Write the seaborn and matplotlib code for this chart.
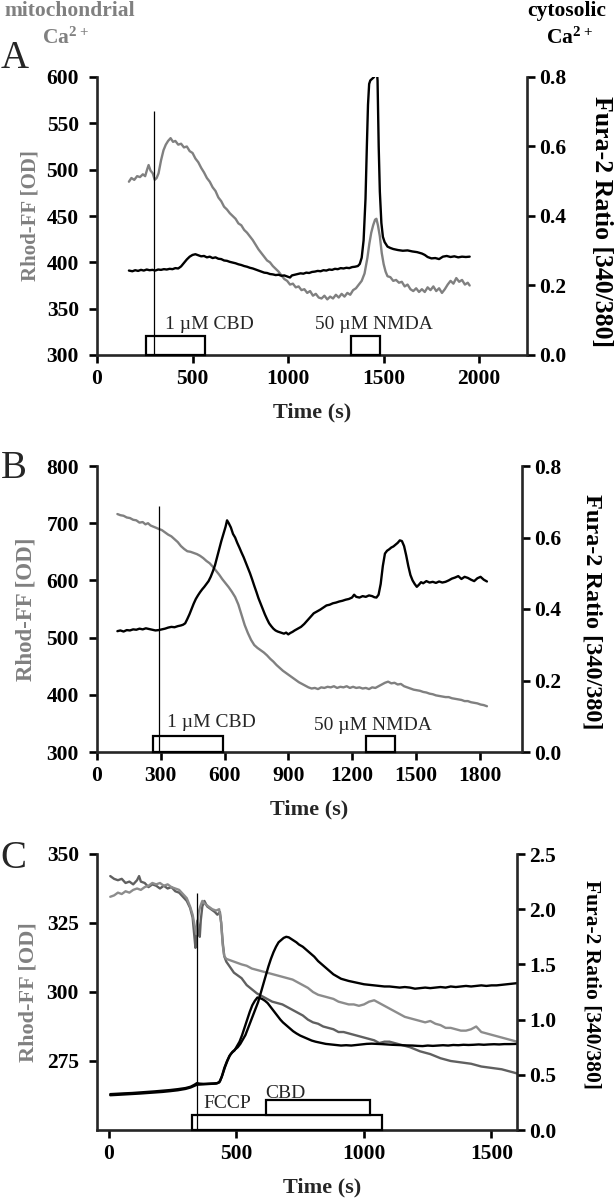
import seaborn as sns
import matplotlib.pyplot as plt
from matplotlib.patches import Rectangle

# ---------------- panel A ----------------
a_rhod_t = [167, 180, 195, 210, 225, 240, 252, 262, 270, 280, 292, 302, 312, 322, 335, 348, 360, 372,
            385, 398, 410, 425, 440, 455, 470, 485, 500, 515, 530, 545, 560, 575, 590, 605, 620, 635,
            650, 665, 680, 695, 710, 725, 740, 755, 770, 785, 800, 815, 830, 845, 860, 875, 890, 905,
            920, 935, 950, 965, 980, 995, 1010, 1025, 1040, 1055, 1070, 1085, 1100, 1115, 1130, 1145,
            1160, 1175, 1190, 1205, 1220, 1235, 1250, 1265, 1280, 1295, 1310, 1325, 1340, 1355, 1370,
            1385, 1400, 1415, 1425, 1435, 1445, 1455, 1462, 1470, 1480, 1490, 1500, 1510, 1520, 1535,
            1550, 1565, 1580, 1595, 1610, 1625, 1640, 1655, 1670, 1685, 1700, 1715, 1730, 1745, 1760,
            1775, 1790, 1805, 1820, 1835, 1850, 1865, 1880, 1895, 1910, 1925, 1940, 1950]
a_rhod = [487, 491, 489, 493, 492, 495, 493, 500, 505, 499, 496, 489, 491, 496, 510, 521, 527, 531,
          534, 530, 531, 527, 528, 524, 525, 520, 518, 512, 508, 502, 497, 491, 487, 481, 477, 470,
          466, 460, 457, 453, 450, 447, 442, 440, 435, 432, 428, 424, 419, 414, 410, 406, 402, 400,
          396, 393, 390, 386, 382, 380, 376, 377, 373, 374, 370, 371, 367, 369, 364, 366,
          362, 361, 364, 360, 363, 361, 365, 362, 366, 363, 367, 365, 370, 372, 376,
          380, 388, 405, 420, 432, 440, 446, 447, 440, 428, 410, 398, 390, 385, 384,
          380, 381, 378, 379, 374, 376, 371, 369, 372, 368, 371, 368, 373, 370, 374,
          369, 372, 367, 371, 376, 380, 377, 383, 379, 381, 376, 378, 375]
a_fura_t = [167, 185, 200, 215, 230, 245, 260, 275, 290, 305, 320, 335, 350, 365, 380, 395, 410, 425,
            440, 455, 470, 485, 500, 515, 530, 545, 560, 575, 590, 605, 620, 635, 650, 665, 680, 695,
            710, 725, 740, 755, 770, 785, 800, 815, 830, 845, 860, 875, 890, 905, 920, 935, 950, 965,
            980, 995, 1010, 1020, 1035, 1050, 1065, 1080, 1095, 1110, 1125, 1140, 1155, 1170, 1185,
            1200, 1215, 1230, 1245, 1260, 1275, 1290, 1305, 1320, 1335, 1350, 1365, 1375, 1385, 1395,
            1405, 1412, 1418, 1424, 1430, 1440, 1450, 1456, 1462, 1468, 1474, 1480, 1488, 1496, 1505,
            1520, 1535, 1550, 1575, 1600, 1625, 1650, 1675, 1700, 1715, 1730, 1750, 1770, 1790, 1810,
            1830, 1850, 1870, 1890, 1910, 1930, 1950]
a_fura = [.243, .241, .244, .242, .245, .243, .246, .244, .245, .243, .246, .245, .247, .246, .248, .247,
          .250, .249, .255, .265, .275, .283, .288, .290, .287, .284, .285, .281, .283, .279, .281, .277,
          .276, .272, .271, .268, .266, .264, .261, .259, .256, .254, .251, .249, .246, .243, .240, .237,
          .236, .233, .232, .230, .231, .228, .229, .226, .223, .229, .231, .233, .235, .234, .237, .236,
          .239, .240, .242, .241, .244, .243, .246, .245, .248, .247, .250, .249, .251, .250, .253, .254,
          .256, .262, .280, .330, .450, .600, .720, .780, .790, .795, .800, .820, .840, .790, .600, .470,
          .380, .340, .325, .312, .308, .305, .302, .300, .301, .298, .296, .292, .288, .282, .278, .279,
          .276, .283, .285, .282, .284, .281, .283, .282, .283]
a_boxes = [(256, 565, 300, 320), (1328, 1480, 300, 320)]
a_box_text = [(590, 333, '1 µM CBD'), (1450, 333, '50 µM NMDA')]
a_marker = (300, 300, 563)

# ---------------- panel B ----------------
b_rhod_t = [96, 110, 125, 140, 155, 170, 185, 200, 215, 228, 240, 252, 265, 278, 290, 305, 320, 335,
            350, 365, 380, 395, 410, 425, 440, 455, 470, 485, 500, 515, 530, 545, 560, 575, 590, 605,
            620, 635, 650, 665, 680, 695, 710, 725, 740, 755, 770, 785, 800, 815, 830, 845, 860, 875,
            890, 905, 920, 935, 950, 965, 980, 995, 1010, 1025, 1040, 1055, 1070, 1085, 1100, 1115,
            1130, 1145, 1160, 1175, 1190, 1205, 1220, 1235, 1250, 1265, 1280, 1295, 1310, 1325, 1340,
            1355, 1370, 1385, 1400, 1415, 1430, 1445, 1460, 1475, 1490, 1505, 1520, 1535, 1550, 1565,
            1580, 1595, 1610, 1625, 1640, 1655, 1670, 1685, 1700, 1715, 1730, 1745, 1760, 1775, 1790,
            1805, 1820, 1835]
b_rhod = [716, 714, 713, 710, 709, 706, 705, 701, 702, 698, 700, 696, 694, 692, 690, 688, 684, 680,
          677, 672, 667, 660, 655, 651, 650, 648, 646, 643, 639, 634, 630, 624, 617, 610, 602, 595,
          588, 580, 571, 558, 540, 522, 508, 496, 487, 482, 478, 474, 469, 463, 458, 452, 447, 442,
          438, 434, 430, 426, 422, 419, 416, 413, 411, 412, 410, 413, 412, 414, 413, 415,
          412, 414, 413, 415, 412, 414, 412, 413, 411, 412, 410, 413, 412, 415, 418,
          421, 423, 420, 421, 418, 419, 415, 413, 411, 409, 408, 407, 405, 404, 402,
          401, 399, 398, 397, 396, 396, 394, 393, 392, 391, 389, 389, 387, 386, 385,
          383, 382, 380]
b_fura_t = [96, 110, 125, 140, 155, 170, 185, 200, 215, 230, 245, 260, 275, 290, 305, 320, 335, 350,
            365, 380, 395, 405, 415, 425, 435, 445, 455, 465, 475, 485, 495, 505, 515, 525, 535, 545,
            555, 565, 575, 585, 595, 605, 612, 620, 630, 640, 650, 660, 670, 680, 690, 700, 710, 720,
            730, 740, 750, 760, 770, 780, 790, 800, 810, 820, 830, 840, 850, 860, 870, 880, 890, 900,
            910, 920, 930, 945, 960, 975, 990, 1005, 1020, 1035, 1050, 1065, 1080, 1095, 1110, 1125,
            1140, 1155, 1170, 1185, 1200, 1210, 1220, 1235, 1250, 1265, 1280, 1295, 1305, 1315, 1325,
            1335, 1345, 1355, 1365, 1375, 1385, 1395, 1405, 1415, 1425, 1435, 1445, 1455, 1465, 1475,
            1485, 1495, 1505, 1515, 1525, 1535, 1550, 1565, 1580, 1595, 1610, 1625, 1640, 1655, 1670,
            1685, 1700, 1715, 1730, 1745, 1760, 1775, 1790, 1805, 1820, 1835]
b_fura = [.338, .340, .337, .341, .340, .343, .342, .345, .343, .346, .344, .342, .340, .341, .343, .345,
          .348, .350, .349, .352, .354, .356, .360, .372, .385, .400, .415, .428, .438, .447, .455, .462,
          .470, .478, .490, .505, .522, .545, .568, .590, .610, .630, .648, .640, .628, .610, .600, .585,
          .572, .558, .545, .530, .515, .500, .483, .465, .448, .430, .415, .400, .385, .372, .360, .352,
          .345, .340, .337, .335, .333, .331, .334, .329, .333, .336, .340, .345, .350, .358, .368, .378,
          .388, .393, .398, .404, .410, .412, .416, .418, .421, .423, .426, .428, .432, .440, .434, .432,
          .436, .434, .438, .436, .433, .432, .440, .470, .520, .555, .563, .567, .572, .575, .580, .585,
          .592, .590, .576, .550, .520, .495, .480, .470, .462, .468, .475, .472, .478, .474, .476, .473,
          .477, .474, .476, .480, .485, .488, .492, .484, .490, .487, .482, .478, .486, .490, .482, .477]
b_boxes = [(262, 593, 300, 328), (1265, 1404, 300, 328)]
b_box_text = [(540, 351, '1 µM CBD'), (1300, 347, '50 µM NMDA')]
b_marker = (290, 300, 730)

# ---------------- panel C ----------------
c_rhod1_t = [5, 20, 35, 50, 65, 80, 95, 110, 118, 125, 140, 155, 170, 185, 200, 215, 230, 245, 260,
             275, 290, 305, 318, 328, 335, 339, 343, 348, 352, 356, 360, 366, 374, 385, 400, 415, 425,
             435, 440, 446, 452, 460, 475, 490, 505, 520, 540, 560, 580, 600, 620, 640, 660, 680, 700,
             720, 740, 760, 780, 800, 820, 840, 860, 880, 900, 920, 940, 960, 980, 1000, 1020, 1040,
             1060, 1080, 1100, 1140, 1180, 1220, 1260, 1300, 1340, 1380, 1420, 1460, 1500, 1540, 1580,
             1600]
c_rhod1 = [342, 341, 340.5, 341, 339.5, 340, 339, 340.5, 342, 340, 339.5, 338, 339, 338.5, 337.5,
           338.5, 337.5, 338, 336.5, 336, 334.5, 333, 330.5, 327, 320, 316, 322, 326, 322, 320, 326,
           331, 333, 331, 330, 329, 328, 329, 325, 318, 313, 311, 309, 307, 306, 305, 302.5, 301,
           299.5, 298.5, 297.5, 296.5, 296, 295.5, 294.5, 293.5, 292.5, 291.5, 290, 289, 288.5, 287.5,
           287, 286.5, 285.5, 285.5, 285, 284.5, 284, 283.5, 283, 282.5, 281.5, 282, 282, 281, 280,
           278.5, 277.5, 276, 275, 274.5, 274, 273, 272.5, 272, 271, 270.5]
c_rhod2_t = [5, 20, 35, 50, 65, 80, 95, 110, 125, 140, 155, 170, 185, 200, 215, 230, 245, 260, 275,
             290, 305, 318, 328, 336, 342, 347, 352, 358, 366, 375, 390, 405, 420, 432, 440, 446, 452,
             460, 475, 490, 505, 520, 540, 560, 580, 600, 620, 640, 660, 680, 700, 720, 740, 760, 780,
             800, 820, 840, 860, 880, 900, 920, 940, 960, 980, 1000, 1020, 1040, 1060, 1080, 1100,
             1120, 1140, 1160, 1180, 1200, 1220, 1240, 1260, 1280, 1300, 1320, 1340, 1360, 1380, 1400,
             1420, 1440, 1460, 1480, 1500, 1520, 1540, 1560, 1580, 1600]
c_rhod2 = [334.5, 335, 336, 335.5, 336.5, 336, 337, 337.5, 337, 338, 338.5, 339.5, 339, 339.5, 338.5,
           339, 338, 337.5, 337, 335.5, 334, 331, 328, 324, 321, 324, 329, 331, 333, 332, 331, 330,
           329.5, 330, 325, 317, 313, 312, 311.5, 311, 310.5, 310, 309.5, 308.5, 308, 307.5, 307,
           306.5, 306, 305.5, 305, 304.5, 303.5, 302.5, 301.5, 300, 299, 298.5, 298, 297.5, 296.5, 296,
           295.5, 295.5, 295, 295.5, 296.5, 297, 296, 295, 294, 293, 292, 291, 290.5, 290, 289.5, 289,
           289.5, 288.5, 288, 287, 287, 286.5, 286, 286, 286.5, 287.5, 285.5, 285, 284.5, 284, 283.5,
           283, 282.5, 282]
c_fura1_t = [5, 30, 60, 90, 120, 150, 180, 210, 240, 270, 300, 320, 335, 345, 355, 370, 390, 410, 425,
             435, 445, 455, 465, 475, 485, 495, 505, 515, 525, 535, 545, 555, 565, 575, 585, 595, 605,
             615, 625, 635, 645, 655, 665, 675, 685, 695, 705, 715, 725, 735, 745, 760, 775, 790, 805,
             820, 835, 850, 865, 880, 895, 910, 925, 940, 960, 980, 1000, 1020, 1040, 1060, 1080, 1100,
             1120, 1140, 1160, 1180, 1200, 1220, 1240, 1260, 1280, 1300, 1320, 1340, 1360, 1380, 1400,
             1420, 1440, 1460, 1480, 1500, 1520, 1540, 1560, 1580, 1600]
c_fura1 = [.325, .328, .332, .335, .340, .345, .350, .356, .362, .370, .380, .392, .410, .425, .420,
           .418, .420, .422, .425, .440, .500, .570, .630, .680, .710, .730, .750, .780, .820, .860,
           .920, .980, 1.04, 1.10, 1.16, 1.24, 1.32, 1.40, 1.48, 1.55, 1.61, 1.66, 1.70, 1.72, 1.74,
           1.75, 1.745, 1.73, 1.715, 1.70, 1.68, 1.66, 1.63, 1.60, 1.57, 1.53, 1.50, 1.47, 1.44, 1.41,
           1.39, 1.37, 1.36, 1.35, 1.34, 1.33, 1.32, 1.315, 1.31, 1.305, 1.30, 1.30, 1.295, 1.29,
           1.295, 1.29, 1.28, 1.285, 1.29, 1.285, 1.29, 1.295, 1.29, 1.30, 1.295, 1.30, 1.305, 1.30,
           1.305, 1.31, 1.305, 1.31, 1.31, 1.315, 1.32, 1.325, 1.33]
c_fura2_t = [5, 30, 60, 90, 120, 150, 180, 210, 240, 270, 300, 320, 335, 345, 360, 380, 400, 420, 432,
             442, 452, 462, 472, 482, 492, 502, 512, 522, 532, 542, 552, 562, 572, 582, 592, 602, 612,
             622, 632, 642, 652, 662, 672, 682, 692, 702, 712, 722, 735, 750, 765, 780, 795, 810, 830,
             850, 870, 890, 910, 930, 950, 970, 990, 1010, 1030, 1050, 1070, 1090, 1110, 1130, 1150,
             1170, 1190, 1210, 1230, 1250, 1270, 1290, 1310, 1330, 1350, 1370, 1390, 1410, 1430, 1450,
             1470, 1490, 1510, 1530, 1550, 1570, 1600]
c_fura2 = [.315, .318, .322, .326, .330, .335, .340, .345, .352, .360, .372, .385, .400, .410, .412,
           .415, .418, .420, .430, .480, .560, .620, .670, .700, .720, .760, .800, .860, .930, 1.00,
           1.07, 1.13, 1.17, 1.20, 1.195, 1.185, 1.17, 1.15, 1.12, 1.09, 1.06, 1.03, 1.00, .975, .955,
           .935, .915, .895, .875, .855, .840, .825, .810, .800, .790, .780, .775, .770, .765, .768,
           .765, .770, .775, .780, .782, .780, .778, .775, .772, .770, .768, .766, .765, .762, .760,
           .765, .762, .765, .768, .765, .770, .768, .772, .770, .772, .775, .772, .775, .777, .775,
           .778, .778, .780]
c_boxes = [(324, 1070, 250, 255.5), (614, 1024, 255.5, 260.8)]
c_box_text = [(464, 259.6, 'FCCP'), (691, 263.2, 'CBD')]
c_marker = (344, 250, 336)

W, H = 614, 1199
GRAY = '#808080'


def fig_xy(x, y):
    return x / W, 1 - y / H


def px_axes(left, top, right, bottom):
    return [left / W, 1 - bottom / H, (right - left) / W, (bottom - top) / H]


def draw_panel(fig, rect, rhod, fura, xlim, xticks, ylim, yticks, y2lim, y2ticks,
               boxes, box_text, marker, rhod_colors):
    ax = fig.add_axes(rect)
    ax2 = ax.twinx()

    for (t, v), col in zip(rhod, rhod_colors):
        sns.lineplot(x=t, y=v, ax=ax, color=col, linewidth=1.7, estimator=None, sort=False)
    for t, v in fura:
        sns.lineplot(x=t, y=v, ax=ax2, color='black', linewidth=1.7, estimator=None, sort=False)

    ax.vlines(marker[0], marker[1], marker[2], color='black', linewidth=0.9, zorder=4)
    for x0, x1, y0, y1 in boxes:
        ax.add_patch(Rectangle((x0, y0), x1 - x0, y1 - y0, facecolor='white',
                               edgecolor='black', linewidth=1.6, zorder=3, clip_on=False))
    for x, y, s in box_text:
        ax.text(x, y, s, ha='center', va='center', fontsize=14, fontweight='normal', zorder=5)

    ax.set_xlim(*xlim)
    ax.set_xticks(xticks)
    ax.set_ylim(*ylim)
    ax.set_yticks(yticks)
    ax2.set_ylim(*y2lim)
    ax2.set_yticks(y2ticks)
    ax2.set_yticklabels([f'{v:.1f}' for v in y2ticks])
    ax.set_xlabel('')
    ax.set_ylabel('')
    ax2.set_ylabel('')

    for a in (ax, ax2):
        a.spines['top'].set_visible(False)
        for s in ('left', 'right', 'bottom'):
            a.spines[s].set_linewidth(1.9)
        a.tick_params(width=1.9, length=6, direction='out', labelsize=15.5, colors='black')
    ax.spines['right'].set_visible(False)
    ax2.spines['left'].set_visible(False)
    ax2.spines['bottom'].set_visible(False)
    ax.tick_params(axis='y', pad=7)
    ax.tick_params(axis='x', pad=4)
    ax2.tick_params(axis='y', pad=3)
    ax.set_facecolor('none')
    return ax, ax2


sns.set_style('ticks')
plt.rcParams['font.family'] = ['Liberation Serif', 'DejaVu Serif']
plt.rcParams['font.weight'] = 'bold'
plt.rcParams['mathtext.fontset'] = 'custom'
plt.rcParams['mathtext.rm'] = 'Liberation Serif'
plt.rcParams['mathtext.bf'] = 'Liberation Serif:bold'

fig = plt.figure(figsize=(W / 100, H / 100), dpi=100)

draw_panel(fig, px_axes(97, 77, 527, 355),
           [(a_rhod_t, a_rhod)], [(a_fura_t, a_fura)],
           (0, 2250), [0, 500, 1000, 1500, 2000], (300, 600), [300, 350, 400, 450, 500, 550, 600],
           (0, 0.8), [0, 0.2, 0.4, 0.6, 0.8], a_boxes, a_box_text, a_marker, [GRAY])
draw_panel(fig, px_axes(97, 466, 522, 752),
           [(b_rhod_t, b_rhod)], [(b_fura_t, b_fura)],
           (0, 2000), [0, 300, 600, 900, 1200, 1500, 1800], (300, 800), [300, 400, 500, 600, 700, 800],
           (0, 0.8), [0, 0.2, 0.4, 0.6, 0.8], b_boxes, b_box_text, b_marker, [GRAY])
draw_panel(fig, px_axes(97, 854, 517, 1130),
           [(c_rhod1_t, c_rhod1), (c_rhod2_t, c_rhod2)],
           [(c_fura1_t, c_fura1), (c_fura2_t, c_fura2)],
           (-47, 1600), [0, 500, 1000, 1500], (250, 350), [275, 300, 325, 350],
           (0, 2.5), [0, 0.5, 1.0, 1.5, 2.0, 2.5], c_boxes, c_box_text, c_marker,
           ['#606060', '#8c8c8c'])

# panel letters, axis titles
for letter, (x, y) in zip('ABC', [(15, 59), (14, 469), (13, 858)]):
    fig.text(*fig_xy(x, y), letter, fontsize=28, fontweight='normal', ha='center', va='center')

for (x, y), size in zip([(30, 216), (26, 609), (28, 992)], [15, 16.5, 16]):
    fig.text(*fig_xy(x, y), 'Rhod-FF [OD]', color=GRAY, fontsize=size, rotation=90,
             ha='center', va='center')
for (x, y), size in zip([(602, 222), (592, 612), (591, 985)], [18.5, 17.5, 15.5]):
    fig.text(*fig_xy(x, y), 'Fura-2 Ratio [340/380]', color='black', fontsize=size, rotation=270,
             ha='center', va='center')
for x, y in [(312, 412), (309, 809), (322, 1187)]:
    fig.text(*fig_xy(x, y), 'Time (s)', fontsize=16, ha='center', va='center')

fig.text(*fig_xy(4, 11), 'mitochondrial', color=GRAY, fontsize=15.5, ha='left', va='center')
fig.text(*fig_xy(42, 44), r'$\mathbf{Ca^{2+}}$', color=GRAY, fontsize=15.5, ha='left', va='baseline')
fig.text(*fig_xy(606, 11), 'cytosolic', color='black', fontsize=15.5, ha='right', va='center')
fig.text(*fig_xy(546, 44), r'$\mathbf{Ca^{2+}}$', color='black', fontsize=15.5, ha='left', va='baseline')

fig.savefig('out.png', dpi=100)
